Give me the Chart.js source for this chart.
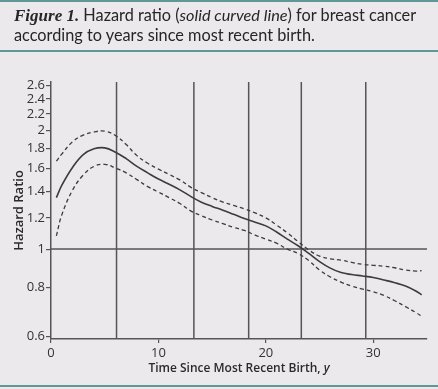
<!DOCTYPE html>
<html>
<head>
<meta charset="utf-8">
<script src="https://cdn.jsdelivr.net/npm/chart.js@4.4.1/dist/chart.umd.min.js"></script>
<style>
  html, body { margin: 0; padding: 0; background: #ebe9ec; }
  #wrap { position: relative; width: 438px; height: 389px; overflow: hidden; }
  #caption {
    position: absolute; left: 0; top: 0; width: 438px; height: 52px;
    box-sizing: border-box;
    border-top: 2px solid #5f9896; border-bottom: 2px solid #5f9896;
  }
  #caption p {
    margin: 0; position: absolute; left: 14px; top: 4px;
    font: 16.3px "Lato", sans-serif; line-height: 18.5px; color: #262626;
    white-space: nowrap;
  }
  #caption b { font-family: "Liberation Serif", serif; font-style: italic; font-size: 17px; }
  #bottomRule { position: absolute; left: 0; top: 385px; width: 438px; height: 2px; background: #5f9896; }
  #chartBox { position: absolute; left: 0; top: 0; width: 438px; height: 389px; }
</style>
</head>
<body>
<div id="wrap">
  <div id="chartBox"><canvas id="hazardChart"></canvas></div>
  <div id="caption"><p><b>Figure 1.</b> Hazard ratio (<i>solid curved line</i>) for breast cancer<br>according to years since most recent birth.</p></div>
  <div id="bottomRule"></div>
</div>
<script>
// values
const years   = [0.5, 1, 2, 3, 4, 5, 6, 7, 8, 9, 10, 11, 12, 13, 14, 15, 16, 17, 18, 19, 20,
                 21, 22, 23, 24, 25, 26, 27, 28, 29, 30, 31, 32, 33, 34, 34.5];
const hazard  = [1.35, 1.45, 1.61, 1.735, 1.795, 1.805, 1.76, 1.695, 1.62, 1.56, 1.505, 1.46, 1.413, 1.36, 1.315,
                 1.283, 1.255, 1.225, 1.195, 1.17, 1.145, 1.105, 1.06, 1.02, 0.975, 0.93, 0.895, 0.872, 0.862,
                 0.855, 0.847, 0.835, 0.822, 0.806, 0.782, 0.766];
const upperCI = [1.67, 1.74, 1.87, 1.945, 1.98, 1.99, 1.94, 1.84, 1.725, 1.65, 1.595, 1.545, 1.497, 1.435, 1.39,
                 1.35, 1.315, 1.29, 1.265, 1.235, 1.20, 1.15, 1.10, 1.045, 0.995, 0.96, 0.945, 0.938, 0.925,
                 0.915, 0.91, 0.905, 0.897, 0.885, 0.88, 0.882];
const lowerCI = [1.08, 1.22, 1.41, 1.54, 1.62, 1.64, 1.605, 1.56, 1.50, 1.44, 1.395, 1.35, 1.305, 1.25, 1.215,
                 1.185, 1.16, 1.135, 1.115, 1.085, 1.06, 1.035, 1.00, 0.975, 0.935, 0.885, 0.85, 0.825, 0.806,
                 0.792, 0.78, 0.763, 0.74, 0.715, 0.69, 0.676];
const cutYears = [6.1, 13.3, 18.4, 23.3, 29.3];
const refRatio = 1;
const yTicks = [0.6, 0.8, 1, 1.2, 1.4, 1.6, 1.8, 2, 2.2, 2.4, 2.6];
const xTicks = [0, 10, 20, 30];
const xMin = 0, xMax = 35;
const yMin = 0.592, yMax = 2.65;

const lineColor = '#3c3c3c';
const ruleColor = '#555555';

function toPoints(values) {
    return years.map((x, i) => ({x: x, y: values[i]}));
}

const datasets = [
    {data: toPoints(hazard), borderColor: lineColor, borderWidth: 1.6},
    {data: toPoints(upperCI), borderColor: lineColor, borderWidth: 1.3, borderDash: [4, 3]},
    {data: toPoints(lowerCI), borderColor: lineColor, borderWidth: 1.3, borderDash: [4, 3]}
];
cutYears.forEach(c => {
    datasets.push({data: [{x: c, y: yMin}, {x: c, y: yMax}], borderColor: ruleColor, borderWidth: 1.5, tension: 0});
});
datasets.push({data: [{x: xMin, y: refRatio}, {x: xMax, y: refRatio}], borderColor: ruleColor, borderWidth: 1.5, tension: 0});

// axis titles (x title has an italic "y")
const axisTitles = {
    id: 'axisTitles',
    afterDraw(chart) {
        const ctx = chart.ctx;
        const area = chart.chartArea;
        ctx.save();
        ctx.fillStyle = '#2a2a2a';
        ctx.textBaseline = 'alphabetic';
        const main = 'Time Since Most Recent Birth, ';
        const fontMain = '600 12px "Open Sans"';
        const fontIt = 'italic 600 12px "Open Sans"';
        ctx.font = fontMain;
        const w1 = ctx.measureText(main).width;
        ctx.font = fontIt;
        const w2 = ctx.measureText('y').width;
        const startX = (area.left + area.right) / 2 - (w1 + w2) / 2;
        ctx.font = fontMain;
        ctx.textAlign = 'left';
        ctx.fillText(main, startX, 372);
        ctx.font = fontIt;
        ctx.fillText('y', startX + w1, 372);

        ctx.translate(19, (area.top + area.bottom) / 2);
        ctx.rotate(-Math.PI / 2);
        ctx.font = '600 13px "Open Sans"';
        ctx.textAlign = 'center';
        ctx.textBaseline = 'middle';
        ctx.fillText('Hazard Ratio', 0, 0);
        ctx.restore();
    }
};

const ctx = document.getElementById('hazardChart').getContext('2d');
new Chart(ctx, {
    type: 'line',
    data: {datasets: datasets},
    options: {
        responsive: true,
        maintainAspectRatio: false,
        animation: false,
        layout: {padding: {top: 82, right: 11, left: 0, bottom: 0}},
        elements: {
            point: {radius: 0},
            line: {tension: 0.4, fill: false}
        },
        plugins: {legend: {display: false}, tooltip: {enabled: false}},
        scales: {
            x: {
                type: 'linear',
                min: xMin,
                max: xMax,
                afterFit: scale => { scale.height = 50; },
                afterBuildTicks: scale => { scale.ticks = xTicks.map(v => ({value: v})); },
                grid: {display: true, drawOnChartArea: false, tickLength: 4, color: ruleColor, lineWidth: 1.2},
                border: {display: true, color: ruleColor, width: 1.5},
                ticks: {color: '#333', font: {family: 'Open Sans', size: 13}, padding: 2, maxRotation: 0}
            },
            y: {
                type: 'logarithmic',
                min: yMin,
                max: yMax,
                afterFit: scale => { scale.width = 51; },
                afterBuildTicks: scale => { scale.ticks = yTicks.map(v => ({value: v})); },
                grid: {display: true, drawOnChartArea: false, tickLength: 5, color: ruleColor, lineWidth: 1.2},
                border: {display: true, color: ruleColor, width: 1.5},
                ticks: {
                    color: '#333',
                    font: {family: 'Open Sans', size: 13},
                    padding: 1,
                    autoSkip: false,
                    callback: v => String(v)
                }
            }
        }
    },
    plugins: [axisTitles]
});
</script>
</body>
</html>
